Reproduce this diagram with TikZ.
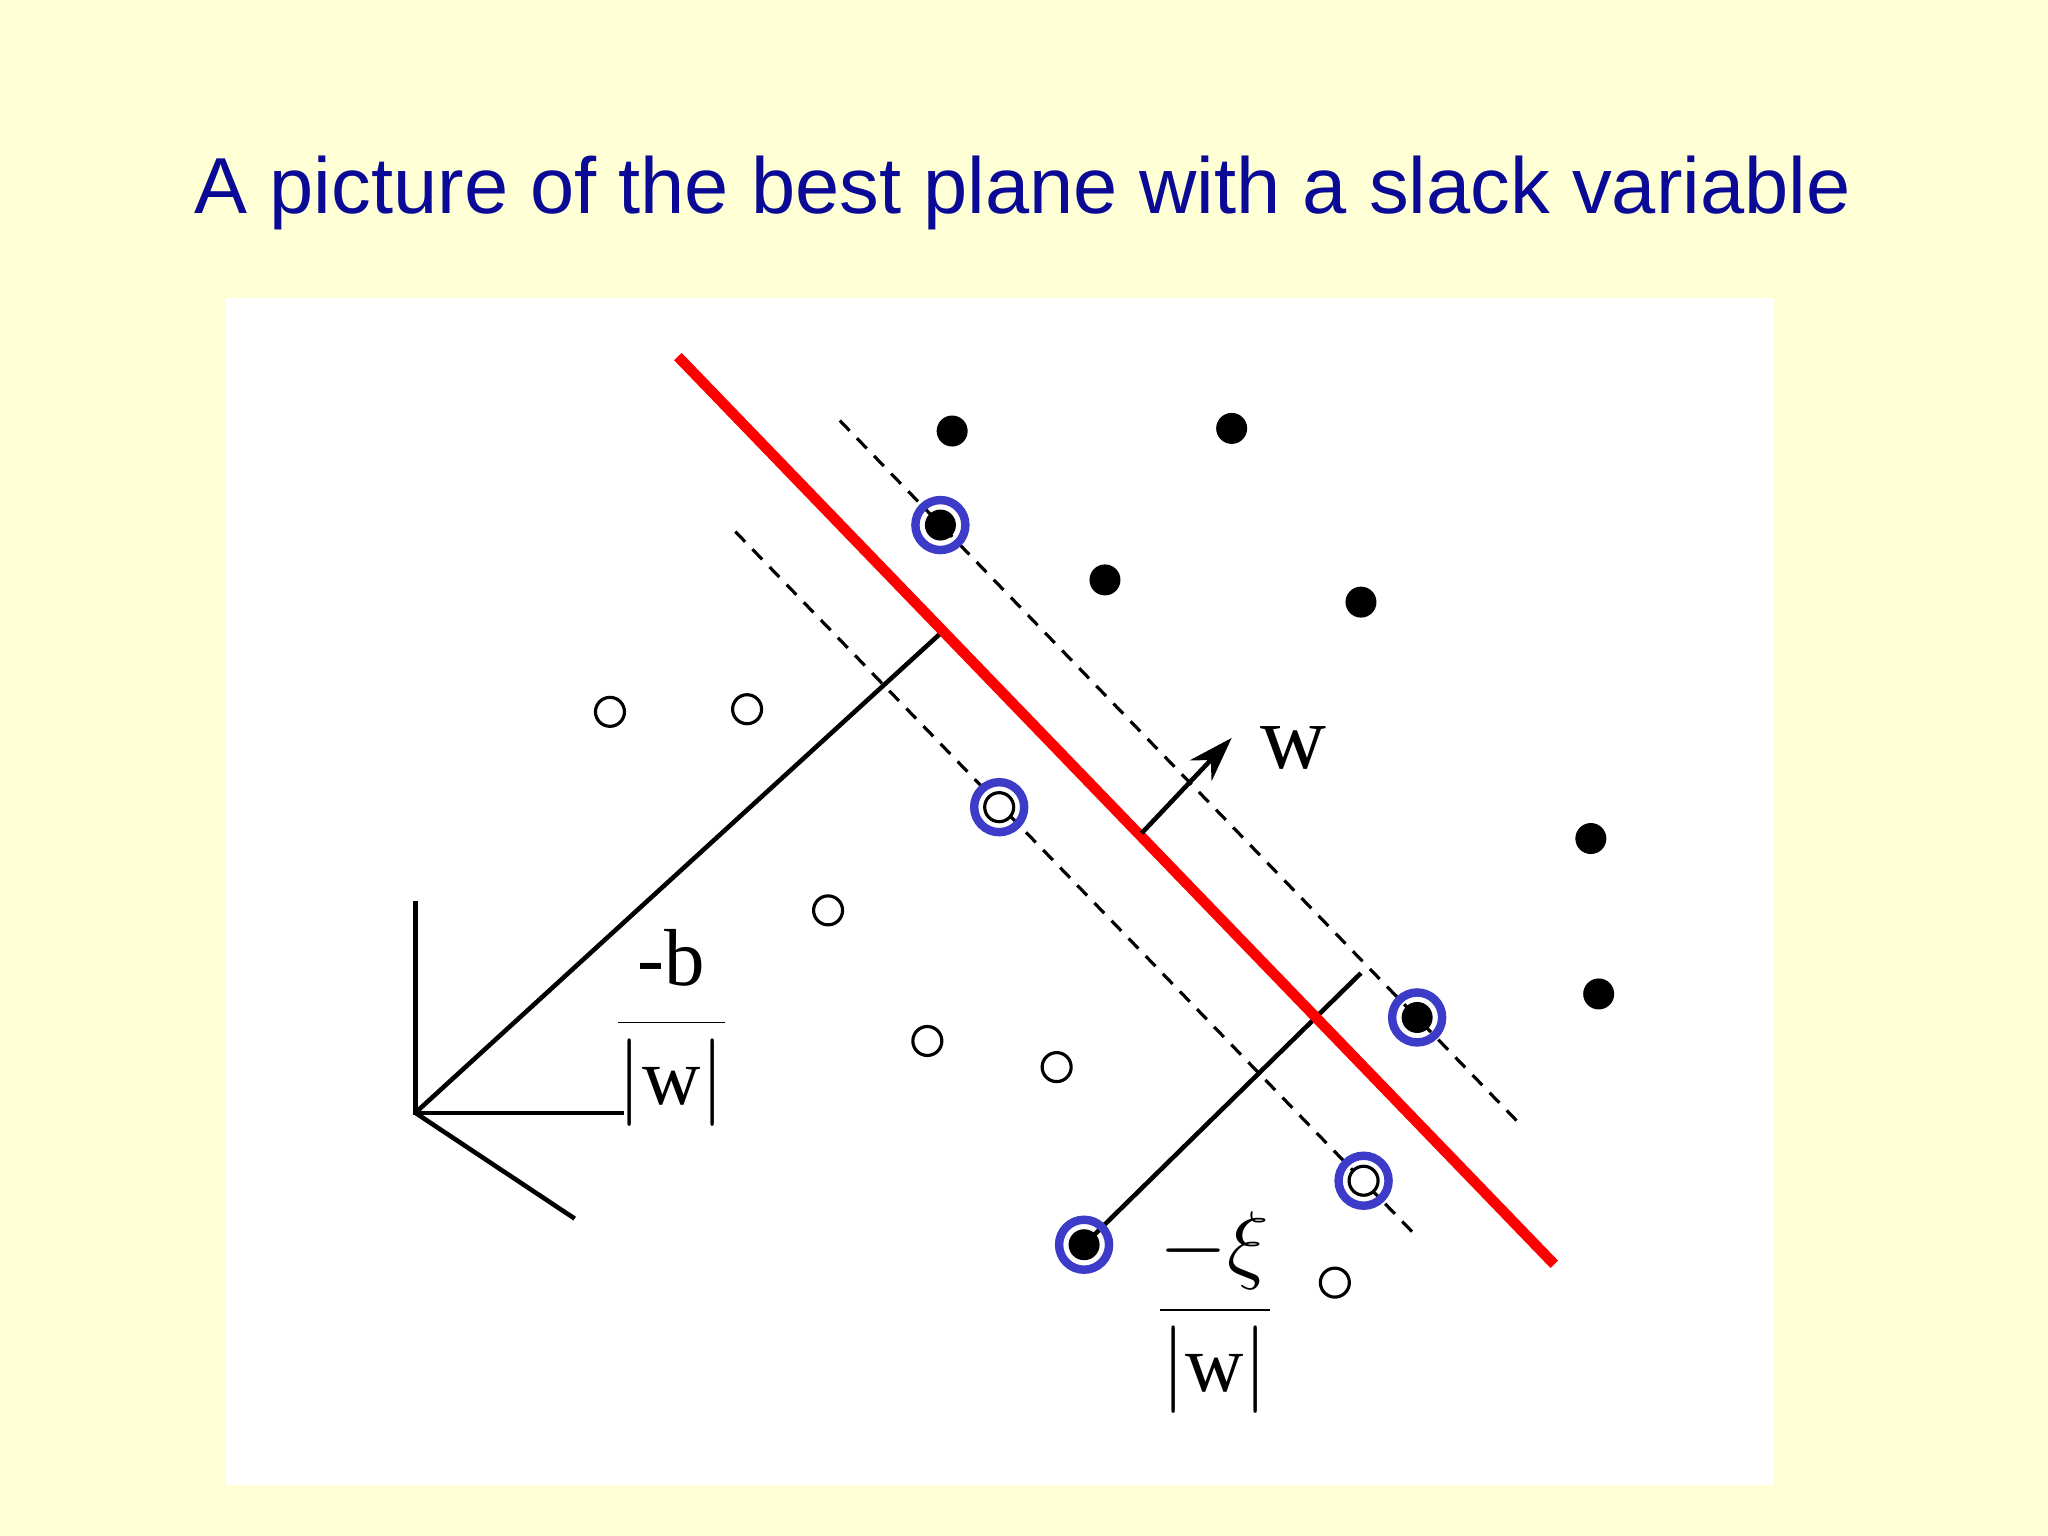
\documentclass[tikz,border=0pt]{standalone}
\usepackage{fontspec}
\setmainfont{Liberation Serif}
\newfontfamily\titlefont{Liberation Sans}
\usetikzlibrary{arrows.meta}
\definecolor{bgy}{RGB}{255,255,213}
\definecolor{ttl}{RGB}{10,10,150}
\definecolor{ring}{RGB}{60,60,200}
\begin{document}
\begin{tikzpicture}[x=0.013061cm,y=-0.013061cm,
  bdot/.style={circle,fill=black,inner sep=0pt,minimum size=0.31cm},
  odot/.style={circle,draw=black,line width=0.9pt,fill=white,inner sep=0pt,minimum size=0.29cm},
  sv/.style={circle,draw=ring,line width=2.4pt,inner sep=0pt,minimum size=0.5cm},
  thin/.style={line width=1.3pt},
  dsh/.style={line width=0.9pt,dash pattern=on 4pt off 3pt},
  lbl/.style={font=\fontsize{26}{28}\selectfont},
  frac/.style={font=\fontsize{23}{25}\selectfont}]
\fill[bgy] (0,0) rectangle (1568,1176);
\useasboundingbox (0,0) rectangle (1568,1176);
\fill[white] (173,228) rectangle (1358,1137);
\node[text=ttl,font=\titlefont\fontsize{22.6}{27}\selectfont] (title) at (783,148) {A picture of the best plane with a slack variable};
% dashed margins
\coordinate (du1) at (643,322); \coordinate (du2) at (1165,862);
\coordinate (dl1) at (563,407); \coordinate (dl2) at (1085,947);
\draw[dsh] (du1) -- (du2);
\draw[dsh] (dl1) -- (dl2);
% axes
\coordinate (o) at (318,852);
\coordinate (ay) at (318,690); \coordinate (ax) at (478,852); \coordinate (az) at (440,933);
\draw[thin] (ay) -- (o) -- (ax); \draw[thin] (o) -- (az);
\coordinate (foot) at (720,485);
\draw[thin] (o) -- (foot);
% points
\foreach \n/\x/\y in {b1/729/330,b2/943/328,b3/846/444,b4/1042/461,b5/1218/642,b6/1224/761,b7/720/402,b8/1085/779,b9/830/953}
  \node[bdot] (\n) at (\x,\y) {};
\foreach \n/\x/\y in {o1/467/545,o2/572/543,o3/634/697,o4/710/797,o5/809/817,o6/1022/982,o7/765/618,o8/1044/904}
  \node[odot] (\n) at (\x,\y) {};
\coordinate (sl) at (1042,745);
\draw[thin] (b9.center) -- (sl);
% red plane
\coordinate (r1) at (519,273); \coordinate (r2) at (1190,968);
\draw[red,line width=3pt] (r1) -- (r2);
% w arrow
\coordinate (wa) at (874,638); \coordinate (wb) at (943,565);
\draw[thin,-{Stealth[length=0.45cm,width=0.3cm]}] (wa) -- (wb);
\node[lbl] (w) at (990,573) {w};
% support vector rings
\foreach \n in {b7,o7,b8,o8,b9} \node[sv] at (\n) {};
% labels
\node[frac] (fb) at (514,787) {$\displaystyle\frac{\textrm{-b}}{|\textrm{w}|}$};
\node[frac] (fx) at (930,1005) {$\displaystyle\frac{-\xi}{|\textrm{w}|}$};
\end{tikzpicture}
\end{document}
